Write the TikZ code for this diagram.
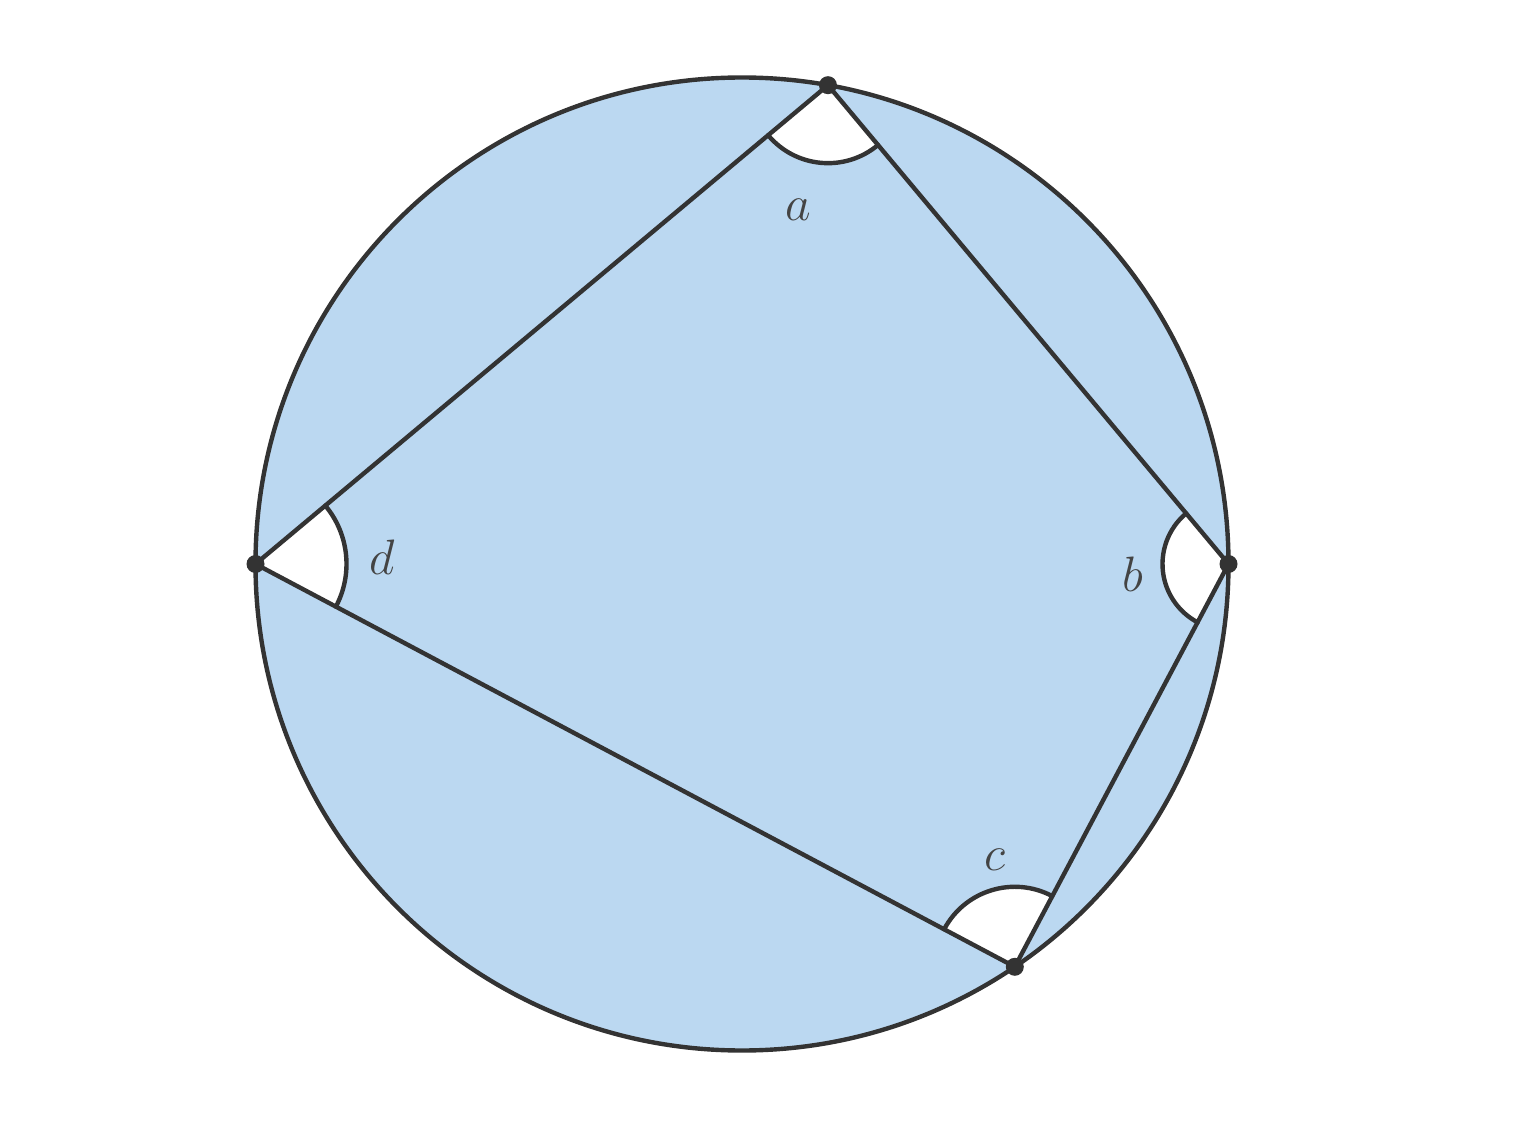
\documentclass[tikz,border=0pt]{standalone}
\usetikzlibrary{calc}
\definecolor{fillblue}{HTML}{BBD8F1}
\definecolor{ink}{HTML}{333333}
\definecolor{labelink}{HTML}{444444}
\begin{document}
\begin{tikzpicture}[x=0.5pt,y=0.5pt,
  edge/.style={draw=ink,line width=2.2pt,line cap=round,line join=round},
  vdot/.style={circle,fill=ink,inner sep=0pt,minimum size=9pt},
  anglab/.style={text=labelink,font=\fontsize{27}{27}\selectfont},
  sector/.style={fill=white}]
\useasboundingbox (0,0) rectangle (1522,-1139);
\coordinate (O) at (742,-564);
\coordinate (A) at ($(O)+(79.82:486.5)$);
\coordinate (B) at ($(O)+(0:486.5)$);
\coordinate (C) at ($(O)+(-55.89:486.5)$);
\coordinate (D) at ($(O)+(180:486.5)$);
% disc
\fill[fillblue] (O) circle (486.5);
% angle sectors
\fill[sector] (A) -- ++(219.92:78) arc (219.92:309.90:78) -- cycle;
\draw[edge] ($(A)+(219.92:78)$) arc (219.92:309.90:78);
\fill[sector] (B) -- ++(129.90:66) arc (129.90:242.08:66) -- cycle;
\draw[edge] ($(B)+(129.90:66)$) arc (129.90:242.08:66);
\fill[sector] (C) -- ++(62.08:80) arc (62.08:152.05:80) -- cycle;
\draw[edge] ($(C)+(62.08:80)$) arc (62.08:152.05:80);
\fill[sector] (D) -- ++(-27.95:91) arc (-27.95:39.92:91) -- cycle;
\draw[edge] ($(D)+(-27.95:91)$) arc (-27.95:39.92:91);
% circle outline and quadrilateral
\draw[edge] (O) circle (486.5);
\draw[edge] (A) -- (B) -- (C) -- (D) -- cycle;
% vertices
\node[vdot] (vA) at (A) {};
\node[vdot] (vB) at (B) {};
\node[vdot] (vC) at (C) {};
\node[vdot] (vD) at (D) {};
% labels
\node[anglab] (la) at (798,-210) {$a$};
\node[anglab] (lb) at (1133,-574) {$b$};
\node[anglab] (lc) at (995,-860) {$c$};
\node[anglab] (ld) at (382,-557) {$d$};
\end{tikzpicture}
\end{document}
